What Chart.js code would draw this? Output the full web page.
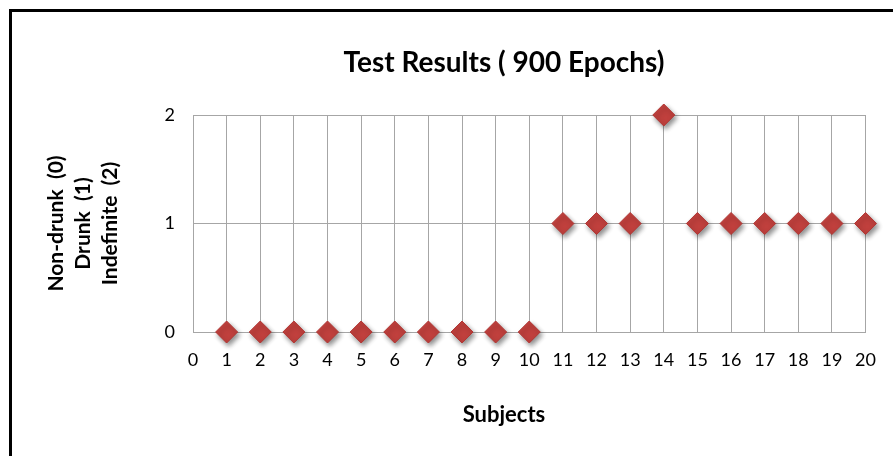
<!DOCTYPE html>
<html lang="en">
<head>
    <meta charset="UTF-8">
    <title>Test Results (900 Epochs)</title>
    <script src="https://cdn.jsdelivr.net/npm/chart.js"></script>
    <style>
        body { margin: 0; background: #fff; overflow: hidden; }
        #frame {
            position: absolute; left: 9px; top: 9px;
            width: 2000px; height: 2000px;
            border: 3px solid #000;
        }
        #chartContainer { position: absolute; left: 0; top: 0; width: 893px; height: 456px; }
    </style>
</head>
<body>
    <div id="frame"></div>
    <div id="chartContainer">
        <canvas id="resultChart"></canvas>
    </div>

    <script>
        // Données
        const subjects = [1, 2, 3, 4, 5, 6, 7, 8, 9, 10, 11, 12, 13, 14, 15, 16, 17, 18, 19, 20];
        const results = [0, 0, 0, 0, 0, 0, 0, 0, 0, 0, 1, 1, 1, 2, 1, 1, 1, 1, 1, 1];
        const yTitleLines = ['Non-drunk  (0)', 'Drunk  (1)', 'Indefinite  (2)'];
        const chartTitle = 'Test Results ( 900 Epochs)';
        const xTitle = 'Subjects';

        const fontFamily = 'Lato, "Open Sans", sans-serif';
        const gridColor = '#a6a6a6';
        const titleCenterX = 504; // titres centrés sur le cadre, pas sur la zone de tracé

        // ombre portée sous les losanges
        const shadowPlugin = {
            id: 'markerShadow',
            beforeDatasetsDraw(chart) {
                const ctx = chart.ctx;
                ctx.save();
                ctx.shadowColor = 'rgba(0,0,0,0.45)';
                ctx.shadowBlur = 5;
                ctx.shadowOffsetX = 2;
                ctx.shadowOffsetY = 3;
            },
            afterDatasetsDraw(chart) {
                chart.ctx.restore();
            }
        };

        // titre du graphique et titre de l'axe X
        const titlesPlugin = {
            id: 'frameTitles',
            afterDraw(chart) {
                const ctx = chart.ctx;
                ctx.save();
                ctx.fillStyle = '#000';
                ctx.textAlign = 'center';
                ctx.textBaseline = 'middle';
                ctx.font = 'bold 28px ' + fontFamily;
                ctx.fillText(chartTitle, titleCenterX, 63);
                ctx.font = 'bold 22px ' + fontFamily;
                ctx.fillText(xTitle, titleCenterX, 415);
                ctx.restore();
            }
        };

        const ctx = document.getElementById('resultChart').getContext('2d');
        new Chart(ctx, {
            type: 'scatter',
            data: {
                datasets: [{
                    label: 'Results',
                    data: subjects.map((s, i) => ({ x: s, y: results[i] })),
                    pointStyle: 'rectRot',
                    pointRadius: 11,
                    pointHoverRadius: 11,
                    backgroundColor: '#c0403d',
                    borderColor: '#b13633',
                    borderWidth: 1,
                    clip: false
                }]
            },
            plugins: [shadowPlugin, titlesPlugin],
            options: {
                responsive: true,
                maintainAspectRatio: false,
                animation: false,
                layout: { padding: { left: 0, right: 26, top: 115, bottom: 0 } },
                plugins: {
                    legend: { display: false },
                    tooltip: { enabled: false },
                    title: { display: false }
                },
                scales: {
                    x: {
                        type: 'linear',
                        min: 0,
                        max: 20,
                        afterFit: (scale) => { scale.height = 124; },
                        ticks: {
                            stepSize: 1,
                            padding: 17,
                            color: '#000',
                            font: { family: fontFamily, size: 18 }
                        },
                        grid: { color: gridColor, drawTicks: false },
                        border: { color: gridColor }
                    },
                    y: {
                        min: 0,
                        max: 2,
                        afterFit: (scale) => { scale.width = 193; },
                        ticks: {
                            stepSize: 1,
                            padding: 18,
                            color: '#000',
                            font: { family: fontFamily, size: 18 }
                        },
                        grid: { color: gridColor, drawTicks: false },
                        border: { color: gridColor },
                        title: {
                            display: true,
                            text: yTitleLines,
                            color: '#000',
                            font: { family: fontFamily, size: 21, weight: 'bold', lineHeight: 1.29 },
                            padding: { top: 43, bottom: 0 }
                        }
                    }
                }
            }
        });
    </script>
</body>
</html>
